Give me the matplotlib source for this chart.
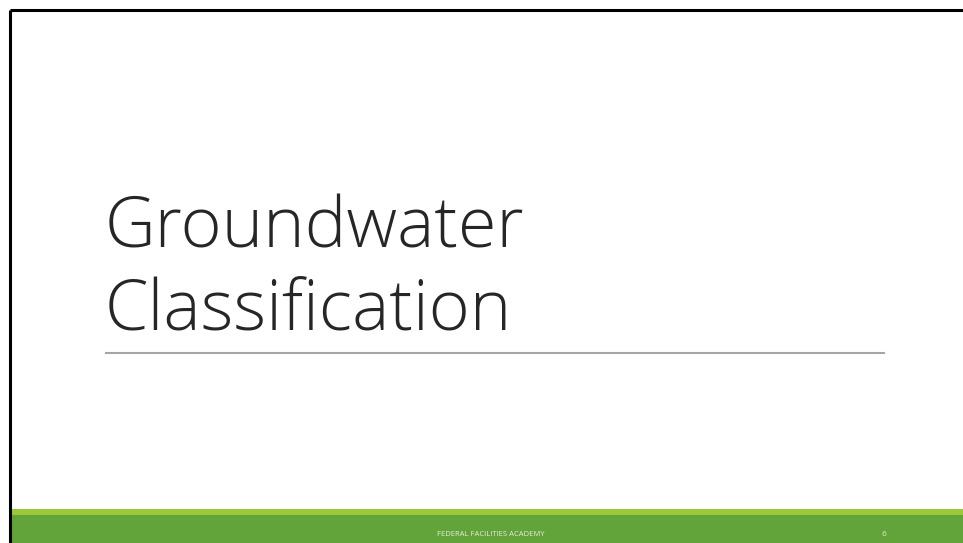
from matplotlib import pyplot as plt
from matplotlib.patches import Rectangle

W, H = 963, 543

title_lines = ["Groundwater", "Classification"]
footer_text = "FEDERAL FACILITIES ACADEMY"
page_number = "6"

fig = plt.figure(figsize=(W / 100, H / 100), dpi=100)
ax = fig.add_axes([0, 0, 1, 1])
ax.set_xlim(0, W)
ax.set_ylim(H, 0)
ax.axis("off")

# black frame (top and left edges only)
ax.plot([10, W], [10, 10], color="black", lw=2.2, solid_capstyle="butt")
ax.plot([10, 10], [10, H], color="black", lw=2.2, solid_capstyle="butt")

# footer bars
ax.add_patch(Rectangle((11, 509), W - 11, 6, color="#9bc93a", lw=0))
ax.add_patch(Rectangle((11, 515), W - 11, H - 515, color="#63a43a", lw=0))

# title
for i, line in enumerate(title_lines):
    ax.text(105, 247 + i * 82, line, fontsize=50.5, family="Open Sans",
            fontweight="light", color="#262626", ha="left", va="baseline")

# rule under title
ax.plot([106, 884], [352.5, 352.5], color="#a6a6a6", lw=1.5)

# footer texts
ax.text(491, 534, footer_text, fontsize=5.5, family="Open Sans",
        color="#e2eedb", ha="center", va="center")
ax.text(884, 534, page_number, fontsize=6, family="Open Sans",
        color="#e2eedb", ha="center", va="center")

fig.savefig("out.png", dpi=100)
